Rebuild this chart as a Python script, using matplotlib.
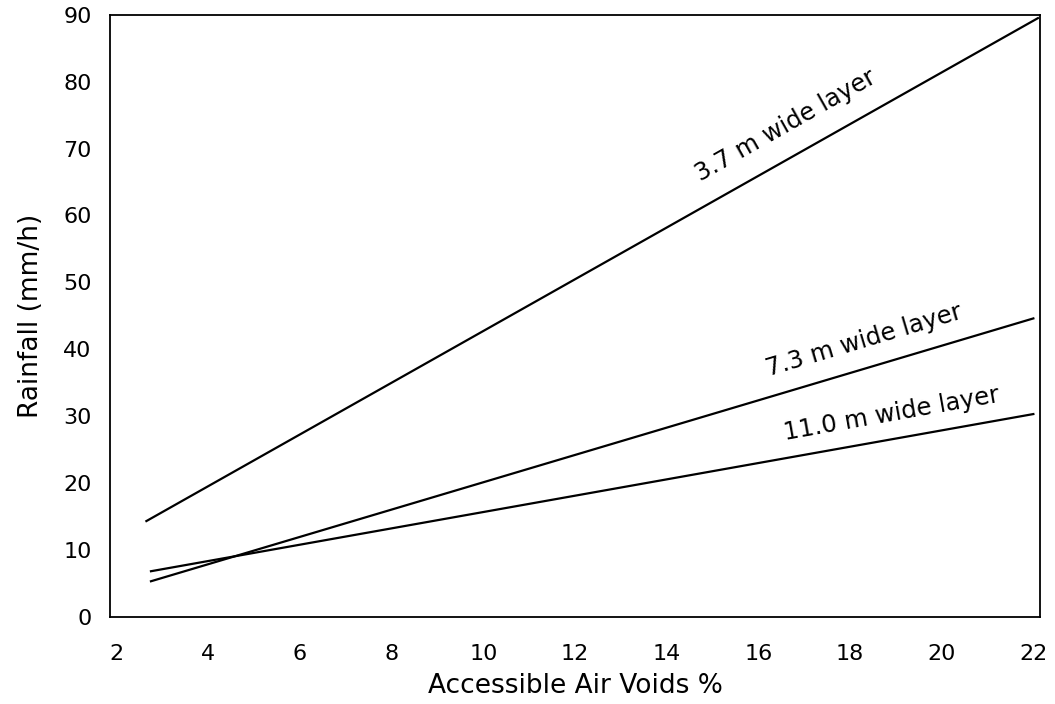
import numpy as np
import matplotlib.pyplot as plt

# values
x_start = [2.65, 2.75, 2.75]
x_end = [22.1, 22.0, 22.0]
layers = ['3.7 m wide layer', '7.3 m wide layer', '11.0 m wide layer']
y_start = [14.3, 5.3, 6.8]
y_end = [89.5, 44.6, 30.3]
label_xy = [(16.6, 73.5), (18.3, 41.3), (18.9, 30.3)]
xticks = list(range(2, 23, 2))
yticks = list(range(0, 91, 10))

fig = plt.figure(figsize=(10.55, 7.04), dpi=100)
ax = fig.add_axes([0.104, 0.124, 0.882, 0.855])
ax.set_xlim(1.85, 22.15)
ax.set_ylim(0, 90)

for i in range(len(layers)):
    ax.plot([x_start[i], x_end[i]], [y_start[i], y_end[i]], color='black', lw=1.6)
    slope = (y_end[i] - y_start[i]) / (x_end[i] - x_start[i])
    ang = np.degrees(np.arctan(slope))
    ax.text(label_xy[i][0], label_xy[i][1], layers[i], fontsize=17.5,
            rotation=ang, rotation_mode='anchor', transform_rotates_text=True,
            ha='center', va='center')

ax.set_xticks(xticks)
ax.set_yticks(yticks)
ax.tick_params(length=0, labelsize=16)
ax.tick_params(axis='x', pad=20)
ax.tick_params(axis='y', pad=13)
for s in ax.spines.values():
    s.set_linewidth(1.3)
ax.set_xlabel('Accessible Air Voids %', fontsize=19, labelpad=6)
ax.set_ylabel('Rainfall (mm/h)', fontsize=19, labelpad=14)

plt.savefig('out.png', dpi=100)
